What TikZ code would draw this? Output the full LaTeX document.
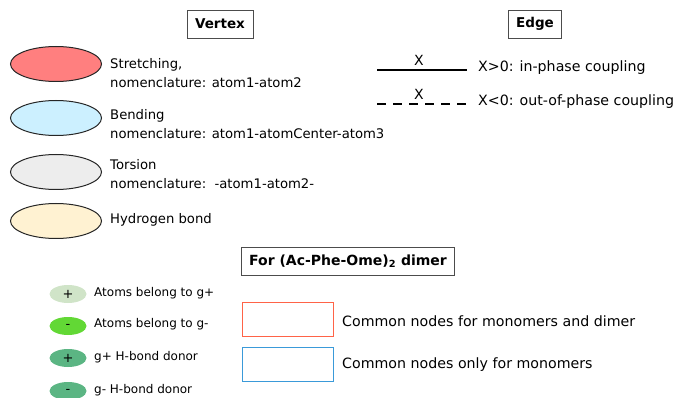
\documentclass[tikz,border=0pt]{standalone}
\usepackage{fontspec}
\setmainfont{DejaVu Sans}
\usetikzlibrary{shapes.geometric}
\definecolor{cRed}{HTML}{FF7F7F}
\definecolor{cBlue}{HTML}{CCF0FF}
\definecolor{cGray}{HTML}{EDEDED}
\definecolor{cCream}{HTML}{FFF2D2}
\definecolor{gLight}{HTML}{D0E4C8}
\definecolor{gBright}{HTML}{62D835}
\definecolor{gDark}{HTML}{5BB583}
\definecolor{rectRed}{HTML}{FF6347}
\definecolor{rectBlue}{HTML}{3A9AD9}
\begin{document}
\begin{tikzpicture}[x=1pt,y=-1pt,
  titlebox/.style={draw=black!70,line width=0.8pt,font=\fontsize{13.5}{15}\selectfont\bfseries,minimum height=28pt,inner xsep=8pt},
  bigell/.style={ellipse,draw=black!85,line width=1pt,minimum width=91pt,minimum height=35pt,inner sep=0pt},
  smallell/.style={ellipse,minimum width=37pt,minimum height=18pt,inner sep=0pt,font=\fontsize{13}{13}\selectfont},
  lbl/.style={anchor=west,align=left,inner sep=0pt,font=\fontsize{13.2}{18.5}\selectfont},
  elbl/.style={anchor=west,inner sep=0pt,font=\fontsize{14.2}{16}\selectfont},
  slbl/.style={anchor=west,inner sep=0pt,font=\fontsize{12}{14}\selectfont},
  legrect/.style={draw,line width=1pt,minimum width=91pt,minimum height=34pt,inner sep=0pt}]
\useasboundingbox (0,0) rectangle (680,398);
% Vertex
\node[titlebox] (vertex) at (220,24) {Vertex};
\node[bigell,fill=cRed] (e1) at (56,64) {};
\node[lbl] (t1) at (110,73) {Stretching,\\nomenclature: atom1-atom2};
\node[bigell,fill=cBlue] (e2) at (56,118) {};
\node[lbl] (t2) at (110,124) {Bending\\nomenclature: atom1-atomCenter-atom3};
\node[bigell,fill=cGray] (e3) at (56,172) {};
\node[lbl] (t3) at (110,174) {Torsion\\nomenclature:\ \ -atom1-atom2-};
\node[bigell,fill=cCream] (e4) at (56,221) {};
\node[lbl] (t4) at (110,220) {Hydrogen bond};
% Edge
\node[titlebox] (edge) at (535,24) {Edge};
\coordinate (s1) at (377,70); \coordinate (s2) at (467,70);
\draw[line width=2pt] (s1) -- (s2);
\node[font=\fontsize{14}{16}\selectfont] (x1) at (419,60) {X};
\node[elbl] (et1) at (478,68) {X>0: in-phase coupling};
\coordinate (d1) at (377,104); \coordinate (d2) at (467,104);
\draw[line width=2pt,dash pattern=on 9pt off 7pt] (d1) -- (d2);
\node[font=\fontsize{14}{16}\selectfont] (x2) at (419,94) {X};
\node[elbl] (et2) at (478,102) {X<0: out-of-phase coupling};
% dimer
\node[titlebox,font=\fontsize{14}{16}\selectfont\bfseries] (dimer) at (348,261) {For (Ac-Phe-Ome)\textsubscript{2} dimer};
\node[smallell,fill=gLight] (g1) at (68,294) {+};
\node[slbl] (gt1) at (94,293) {Atoms belong to g+};
\node[smallell,fill=gBright] (g2) at (68,326) {-};
\node[slbl] (gt2) at (94,324) {Atoms belong to g-};
\node[smallell,fill=gDark] (g3) at (68,358) {+};
\node[slbl] (gt3) at (94,357) {g+ H-bond donor};
\node[smallell,fill=gDark] (g4) at (68,391) {-};
\node[slbl] (gt4) at (94,390) {g- H-bond donor};
\node[legrect,draw=rectRed] (r1) at (288,319) {};
\node[elbl] (rt1) at (342,321) {Common nodes for monomers and dimer};
\node[legrect,draw=rectBlue] (r2) at (288,364) {};
\node[elbl] (rt2) at (342,365) {Common nodes only for monomers};
\end{tikzpicture}
\end{document}
